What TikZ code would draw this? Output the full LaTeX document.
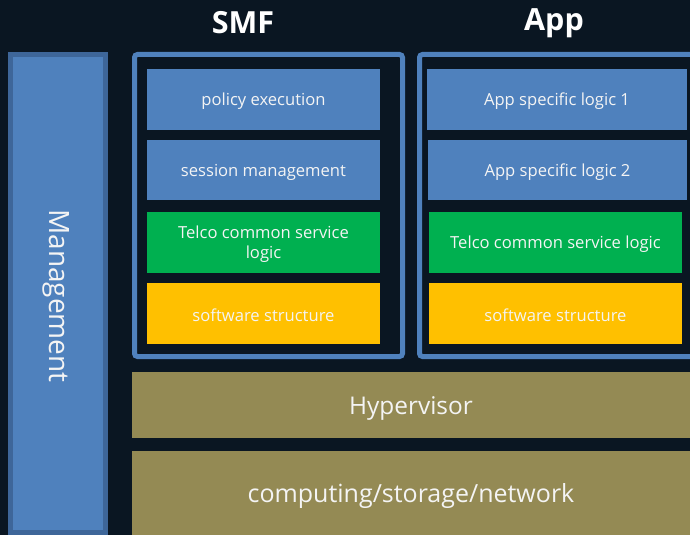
\documentclass[tikz,border=0pt]{standalone}
\usepackage{fontspec}
\setmainfont{Open Sans}
\definecolor{bgdark}{HTML}{0A1622}
\definecolor{boxblue}{HTML}{4F81BD}
\definecolor{mgmtedge}{HTML}{3E6699}
\definecolor{boxgreen}{HTML}{00B050}
\definecolor{boxyellow}{HTML}{FFC000}
\definecolor{boxolive}{HTML}{948A54}
\definecolor{txtwhite}{HTML}{F4F4F4}
\begin{document}
\begin{tikzpicture}[x=1pt,y=-1pt,
  layertext/.style={inner sep=0pt, outer sep=0pt, text=txtwhite, align=center, font=\fontsize{16.6}{20}\selectfont},
  layer/.style={inner sep=0pt, outer sep=0pt},
  txt/.style={label={[layertext, yshift=-2pt]center:#1}},
  bigtxt/.style={label={[layertext, yshift=-3.5pt, font=\fontsize{24.4}{28}\selectfont]center:#1}},
  hugetxt/.style={label={[layertext, yshift=-3pt, font=\fontsize{25}{29}\selectfont]center:#1}},
  bluebox/.style={layer, fill=boxblue},
  greenbox/.style={layer, fill=boxgreen},
  yellowbox/.style={layer, fill=boxyellow},
  olivebox/.style={layer, fill=boxolive},
  container/.style={draw=boxblue, line width=5pt, rounded corners=3pt},
  titletext/.style={text=white, font=\fontsize{30.5}{34}\selectfont\bfseries, inner sep=0pt}
]
\fill[bgdark] (0,0) rectangle (690,535);
\useasboundingbox (0,0) rectangle (690,535);

% titles
\node[titletext] (smft) at (243,23) {SMF};
\node[titletext] (appt) at (554,23) {App};

% management bar
\draw[fill=boxblue, draw=mgmtedge, line width=5pt] (10.5,54.5) rectangle (105.5,532.5);
\node[text=txtwhite, rotate=-90, font=\fontsize{28}{32}\selectfont, inner sep=0pt] (mgmt) at (56,296) {Management};

% containers
\draw[container] (134.5,54.5) rectangle (402.5,356.5);
\draw[container] (419.5,54.5) rectangle (700,356.5);

% SMF boxes
\node[bluebox, minimum width=233pt, minimum height=61pt, txt={policy execution}] (pol) at (263.5,99.5) {};
\node[bluebox, minimum width=233pt, minimum height=60pt, txt={session management}] (ses) at (263.5,170) {};
\node[greenbox, minimum width=233pt, minimum height=61pt, txt={Telco common service\\logic}] (tel1) at (263.5,242.5) {};
\node[yellowbox, minimum width=233pt, minimum height=61pt, txt={software structure}] (sw1) at (263.5,313.5) {};

% App boxes
\node[bluebox, minimum width=260pt, minimum height=61pt, txt={App specific logic 1}] (app1) at (557,99.5) {};
\node[bluebox, minimum width=259pt, minimum height=60pt, txt={App specific logic 2}] (app2) at (557.5,170) {};
\node[greenbox, minimum width=253pt, minimum height=61pt, txt={Telco common service logic}] (tel2) at (555.5,242.5) {};
\node[yellowbox, minimum width=253pt, minimum height=61pt, txt={software structure}] (sw2) at (555.5,313.5) {};

% infrastructure
\node[olivebox, minimum width=558pt, minimum height=66pt, bigtxt={Hypervisor}] (hyp) at (411,404.5) {};
\node[olivebox, minimum width=558pt, minimum height=84pt, hugetxt={computing/storage/network}] (comp) at (411,493) {};
\end{tikzpicture}
\end{document}
